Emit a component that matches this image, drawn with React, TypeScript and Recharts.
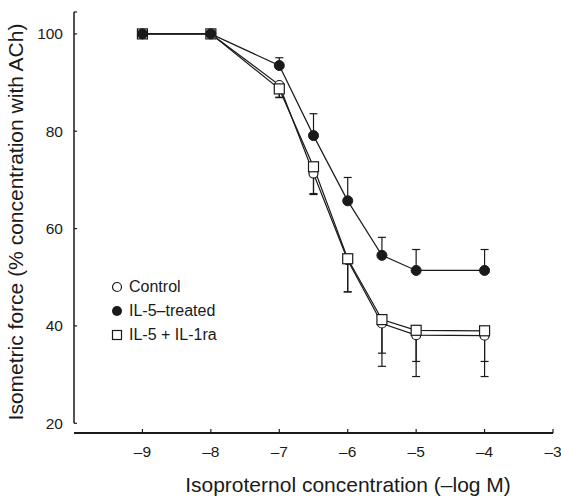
import {
  LineChart,
  Line,
  XAxis,
  YAxis,
  ErrorBar,
  ReferenceLine,
} from "recharts";

// -log M concentrations of isoproterenol
const conc = [-9, -8, -7, -6.5, -6, -5.5, -5, -4];

// % of ACh contraction
const control = [100, 100, 89.5, 71.3, 53.5, 40.5, 38.1, 38];
const il5Treated = [100, 100, 93.5, 79.1, 65.7, 54.5, 51.4, 51.4];
const il5Ra = [100, 100, 88.7, 72.7, 53.8, 41.3, 39.1, 39];

// SEM bars: open symbols drawn down, filled drawn up
const controlSem = [0, 0, 2.5, 4.3, 6.5, 8.8, 8.5, 8.4];
const il5TreatedSem = [0, 0, 1.6, 4.5, 4.8, 3.7, 4.3, 4.3];
const il5RaSem = [0, 0, 1.8, 5.5, 6.8, 6.9, 6.4, 6.3];

const xTicks = [-9, -8, -7, -6, -5, -4, -3];
const yTicks = [20, 40, 60, 80, 100, 104.5];

const FONT = "'Liberation Sans', Arial, sans-serif";
const INK = "#1a1a1a";

const data = conc.map((c, i) => ({
  x: c,
  control: control[i],
  il5: il5Treated[i],
  il5ra: il5Ra[i],
  controlErr: [controlSem[i], 0],
  il5Err: [0, il5TreatedSem[i]],
  il5raErr: [il5RaSem[i], 0],
}));

const YTick = (props: any) => {
  const { x, y, payload } = props;
  return (
    <g>
      <line x1={x} y1={y} x2={x + 3} y2={y} stroke={INK} strokeWidth={1.2} />
      {payload.value <= 100 && (
        <text
          x={x - 11}
          y={y}
          dy={5.5}
          textAnchor="end"
          fontSize={15.5}
          fontFamily={FONT}
          fill={INK}
        >
          {payload.value}
        </text>
      )}
    </g>
  );
};

const XTick = (props: any) => {
  const { x, y, payload } = props;
  return (
    <g>
      <line x1={x} y1={y} x2={x} y2={y - 4} stroke={INK} strokeWidth={1.2} />
      <text
        x={x}
        y={y + 24}
        textAnchor="middle"
        fontSize={15.5}
        fontFamily={FONT}
        fill={INK}
      >
        {`–${Math.abs(payload.value)}`}
      </text>
    </g>
  );
};

const SquareDot = (props: any) => {
  const { cx, cy } = props;
  if (cx == null || cy == null) return null;
  return (
    <rect
      x={cx - 5}
      y={cy - 5}
      width={10}
      height={10}
      fill="#fff"
      stroke={INK}
      strokeWidth={1.2}
    />
  );
};

const legendRows = [
  { label: "Control", icon: <circle cx={6} cy={6} r={4.5} fill="#fff" stroke={INK} strokeWidth={1.2} /> },
  { label: "IL-5–treated", icon: <circle cx={6} cy={6} r={5} fill={INK} /> },
  { label: "IL-5 + IL-1ra", icon: <rect x={1.5} y={1.5} width={9} height={9} fill="#fff" stroke={INK} strokeWidth={1.2} /> },
];

const LegendBox = () => (
  <div
    style={{
      position: "absolute",
      left: 111,
      top: 275,
      fontFamily: FONT,
      fontSize: 16,
      color: INK,
      lineHeight: "24px",
    }}
  >
    {legendRows.map((r) => (
      <div key={r.label} style={{ display: "flex", alignItems: "center" }}>
        <svg width={12} height={12} style={{ marginRight: 6 }}>
          {r.icon}
        </svg>
        {r.label}
      </div>
    ))}
  </div>
);

export default function App() {
  return (
    <div style={{ position: "absolute", left: 0, top: 0, width: 561, height: 496, background: "#fff" }}>
      <LineChart
        width={561}
        height={496}
        data={data}
        margin={{ top: 12, right: 8, bottom: 0, left: 0 }}
      >
        <XAxis
          dataKey="x"
          type="number"
          domain={[-10, -3]}
          ticks={xTicks}
          interval={0}
          allowDataOverflow
          height={63}
          axisLine={{ stroke: INK, strokeWidth: 2 }}
          tickLine={false}
          tickSize={0}
          tickMargin={0}
          tick={<XTick />}
          label={{
            content: () => (
              <text x={348} y={492} textAnchor="middle" fontSize={21} fontFamily={FONT} fill={INK}>
                Isoproternol concentration (–log M)
              </text>
            ),
          }}
        />
        <YAxis
          type="number"
          domain={[18, 104.5]}
          ticks={yTicks}
          interval={0}
          allowDataOverflow
          width={74}
          axisLine={false}
          tickLine={false}
          tickSize={0}
          tickMargin={0}
          tick={<YTick />}
          label={{
            content: () => (
              <text
                x={23}
                y={222}
                transform="rotate(-90 23 222)"
                textAnchor="middle"
                fontSize={21}
                fontFamily={FONT}
                fill={INK}
              >
                Isometric force (% concentration with ACh)
              </text>
            ),
          }}
        />
        <ReferenceLine
          segment={[
            { x: -10, y: 20 },
            { x: -10, y: 104.5 },
          ]}
          stroke={INK}
          strokeWidth={1.5}
          ifOverflow="visible"
        />
        <Line
          dataKey="control"
          stroke={INK}
          strokeWidth={1.2}
          dot={{ r: 4.5, fill: "#fff", stroke: INK, strokeWidth: 1.2 }}
          isAnimationActive={false}
          name="Control"
        >
          <ErrorBar dataKey="controlErr" direction="y" width={4} stroke={INK} strokeWidth={1.2} />
        </Line>
        <Line
          dataKey="il5ra"
          stroke={INK}
          strokeWidth={1.2}
          dot={<SquareDot />}
          isAnimationActive={false}
          name="IL-5 + IL-1ra"
        >
          <ErrorBar dataKey="il5raErr" direction="y" width={4} stroke={INK} strokeWidth={1.2} />
        </Line>
        <Line
          dataKey="il5"
          stroke={INK}
          strokeWidth={1.2}
          dot={{ r: 5, fill: INK, stroke: INK, strokeWidth: 1 }}
          isAnimationActive={false}
          name="IL-5–treated"
        >
          <ErrorBar dataKey="il5Err" direction="y" width={4} stroke={INK} strokeWidth={1.2} />
        </Line>
      </LineChart>
      <LegendBox />
    </div>
  );
}
